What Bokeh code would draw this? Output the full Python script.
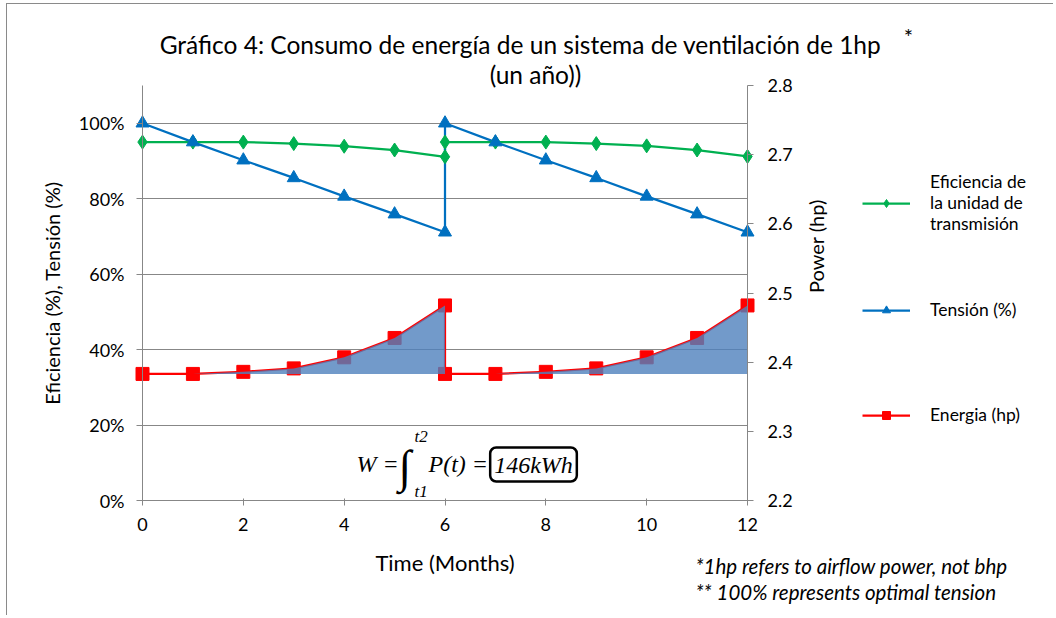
import math
from bokeh.plotting import figure
from bokeh.models import (Range1d, LinearAxis, FixedTicker, NumeralTickFormatter,
                          Legend, LegendItem)
from bokeh.core.properties import value
from bokeh.embed import file_html
from bokeh.resources import INLINE

# ---------------- data ----------------
months = [0, 1, 2, 3, 4, 5, 6, 6, 7, 8, 9, 10, 11, 12]
efficiency = [0.950, 0.950, 0.950, 0.946, 0.939, 0.929, 0.911,
              0.950, 0.950, 0.950, 0.946, 0.940, 0.929, 0.912]
tension = [1.000, 0.950, 0.902, 0.855, 0.806, 0.759, 0.711,
           1.000, 0.950, 0.902, 0.855, 0.806, 0.759, 0.711]
energy_hp = [2.383, 2.383, 2.386, 2.391, 2.407, 2.435, 2.482,
             2.383, 2.383, 2.386, 2.391, 2.407, 2.435, 2.482]
energy_base = 2.383

x_bounds = (0, 12)
left_bounds = (0, 1.1)
right_bounds = (2.2, 2.8)
x_ticks = [0, 2, 4, 6, 8, 10, 12]
left_ticks = [0.0, 0.2, 0.4, 0.6, 0.8, 1.0]
right_ticks = [2.2, 2.3, 2.4, 2.5, 2.6, 2.7, 2.8]

title_line1 = "Gráfico 4: Consumo de energía de un sistema de ventilación de 1hp"
title_line2 = "(un año))"
label_eff = "Eficiencia de\nla unidad de\ntransmisión"
label_ten = "Tensión (%)"
label_en = "Energia (hp)"
note1 = "*1hp refers to airflow power, not bhp"
note2 = "** 100% represents optimal tension"
energy_total = "146kWh"

GREEN = "#00B050"
BLUE = "#0070C0"
RED = "#FF0000"
GRID = "#878787"
FONT = "Lato"
MATH = "Liberation Serif"

# ---------------- layout (page pixels) ----------------
W, H = 1047, 612            # canvas size
CX, CY = 7, 4               # canvas origin on the page (margin + border)
FL, FR, FT, FB = 142, 747, 85, 500   # plotting area of the axes on the page

def span(lo, hi, p_lo, p_hi, c_lo, c_hi):
    """range covering canvas pixels c_lo..c_hi, with lo at p_lo and hi at p_hi"""
    k = (hi - lo) / (p_hi - p_lo)
    return Range1d(lo + (c_lo - p_lo) * k, lo + (c_hi - p_lo) * k)

xr = span(x_bounds[0], x_bounds[1], FL, FR, CX, CX + W)
yr = span(left_bounds[0], left_bounds[1], FB, FT, CY + H, CY)
pr = span(right_bounds[0], right_bounds[1], FB, FT, CY + H, CY)

def dx(px):
    return x_bounds[0] + (px - FL) / (FR - FL) * (x_bounds[1] - x_bounds[0])

def dy(py):
    return left_bounds[0] + (FB - py) / (FB - FT) * (left_bounds[1] - left_bounds[0])

p = figure(width=W, height=H, output_backend="svg", toolbar_location=None, title=None,
           x_range=xr, y_range=yr, min_border=0,
           min_border_left=0, min_border_right=0, min_border_top=0, min_border_bottom=0)
p.styles = {"border-left": "1px solid #8a8a8a", "border-top": "1px solid #8a8a8a",
            "margin-left": "6px", "margin-top": "3px"}
p.extra_y_ranges = {"power": pr}
p.outline_line_color = None
p.background_fill_color = "white"
p.border_fill_color = "white"

p.xgrid.visible = False
yg = p.ygrid[0]
yg.ticker = FixedTicker(ticks=left_ticks)
yg.grid_line_color = GRID
yg.grid_line_width = 1
yg.bounds = left_bounds
if "cross_bounds" in yg.properties():
    yg.cross_bounds = x_bounds

xa = p.xaxis[0]
xa.ticker = FixedTicker(ticks=x_ticks)
xa.axis_label = "Time (Months)"
xa.fixed_location = left_bounds[0]
xa.bounds = x_bounds
ya = p.yaxis[0]
ya.ticker = FixedTicker(ticks=left_ticks)
ya.formatter = NumeralTickFormatter(format="0%")
ya.axis_label = "Eficiencia (%), Tensión (%)"
ya.fixed_location = x_bounds[0]
ya.bounds = left_bounds
ra = LinearAxis(y_range_name="power", ticker=FixedTicker(ticks=right_ticks),
                axis_label="Power (hp)", fixed_location=x_bounds[1], bounds=right_bounds)
p.add_layout(ra, "right")

for ax in (xa, ya, ra):
    ax.axis_line_color = GRID
    ax.major_tick_line_color = GRID
    ax.minor_tick_line_color = None
    ax.major_tick_in = 0
    ax.major_tick_out = 6
    ax.major_label_text_font = FONT
    ax.major_label_text_font_size = "18px"
    ax.major_label_text_color = "black"
    ax.axis_label_text_font = FONT
    ax.axis_label_text_font_size = "20px"
    ax.axis_label_text_font_style = "normal"
    ax.axis_label_text_color = "black"
xa.major_tick_in = 2
xa.major_tick_out = 5
xa.major_label_standoff = 12
xa.axis_label_standoff = 15
xa.axis_label_text_font_size = "22px"
ya.major_label_standoff = 12
ya.axis_label_standoff = 12
ra.major_label_standoff = 14
ra.axis_label_standoff = 20
ra.axis_label_orientation = math.pi / 2

# ---------------- series ----------------
g_line = p.line(months, efficiency, line_color=GREEN, line_width=2.25)
b_line = p.line(months, tension, line_color=BLUE, line_width=2.25)
g_sc = p.scatter(months, efficiency, marker="diamond", size=14, color=GREEN)
b_sc = p.scatter(months, tension, marker="triangle", size=13, color=BLUE)
r_line = p.line(months, energy_hp, line_color=RED, line_width=2.25, y_range_name="power")
r_sc = p.scatter(months, energy_hp, marker="square", size=13, color=RED, y_range_name="power")
p.varea(x=months, y1=[energy_base] * len(months), y2=energy_hp, y_range_name="power",
        fill_color="#4F81BD", fill_alpha=0.8)

# ---------------- legends (one per entry, placed in canvas pixels) ----------------
def mk_legend(label, rends, glyph_left, item_bottom):
    lg = Legend(items=[LegendItem(label=label, renderers=rends)],
                location=(glyph_left - CX, (CY + H) - item_bottom),
                border_line_color=None, background_fill_alpha=0, padding=0, margin=0,
                glyph_width=48, glyph_height=20, label_height=20, label_standoff=20,
                label_text_font=FONT, label_text_font_size="17.5px",
                label_text_line_height=1.25, label_text_color="black")
    p.add_layout(lg, "center")

mk_legend(label_eff, [g_line, g_sc], 862, 234)
mk_legend(label_ten, [b_line, b_sc], 862, 320)
mk_legend(label_en, [r_line, r_sc], 862, 425)

# ---------------- texts ----------------
def txt(texts, pxs, pys, size, align="left", font=FONT, style="normal", **kw):
    p.text(x=[dx(v) for v in pxs], y=[dy(v) for v in pys], text=texts,
           text_align=align, text_baseline="middle", text_font=value(font),
           text_font_size=size, text_font_style=style, text_color="black", **kw)

txt([title_line1], [520], [44], "24.5px", align="center")
txt(["*"], [908], [36], "22px", align="center")
txt([title_line2], [535], [74], "24.5px", align="center")
txt([note1, note2], [695, 695], [565, 591], "20.5px", style="italic")

txt(["W ="], [356], [463], "24px", font=MATH, style="italic")
txt(["\u222b"], [398], [466], "46px", font=MATH, style="italic")
txt(["t2", "t1"], [414, 414], [436, 491], "17px", font=MATH, style="italic")
txt(["P(t) ="], [428], [463], "24px", font=MATH, style="italic")
txt([energy_total], [533], [464], "24px", align="center", font=MATH, style="italic",
    border_line_color="black", border_line_width=2.5, background_fill_color="white",
    padding=4, border_radius=6)

open("out.html", "w").write(file_html(p, INLINE))
